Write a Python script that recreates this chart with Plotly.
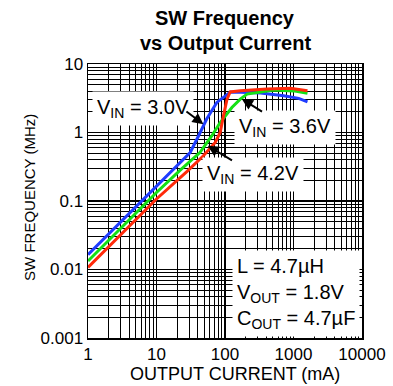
import plotly.graph_objects as go
import math

# Data
i_30 = [1, 10, 31, 41, 54, 76, 95, 120, 170, 330, 720, 1190, 1600]
f_30 = [0.0165, 0.165, 0.51, 0.89, 1.57, 2.75, 3.3, 3.9, 3.88, 3.76, 3.44, 3.15, 2.8]

i_36 = [1, 10, 22, 43, 64, 85, 126, 167, 210, 510, 1000, 1600]
f_36 = [0.0133, 0.133, 0.28, 0.51, 0.89, 1.4, 2.32, 3.07, 3.64, 4.16, 4.05, 3.75]

i_42 = [1, 10, 28, 48, 72, 85, 95, 107, 119, 167, 410, 900, 1600]
f_42 = [0.0107, 0.107, 0.27, 0.454, 0.714, 1.0, 1.75, 3.07, 3.9, 4.06, 4.31, 4.41, 4.06]

x_ticks = [1, 10, 100, 1000, 10000]
x_ticktext = ["1", "10", "100", "1000", "10000"]
y_ticks = [0.001, 0.01, 0.1, 1, 10]
y_ticktext = ["0.001", "0.01", "0.1", "1", "10"]

FONT = "Liberation Sans, Arial, Helvetica, sans-serif"

fig = go.Figure()
for xs, ys, col in [(i_30, f_30, "#1f3cff"), (i_36, f_36, "#14e014"), (i_42, f_42, "#ff2a0a")]:
    fig.add_trace(go.Scatter(x=xs, y=ys, mode="lines",
                             line=dict(color=col, width=3), showlegend=False,
                             hoverinfo="skip"))

L = math.log10

def txt(x, y, text, xanchor="center", align="center"):
    fig.add_annotation(x=L(x), y=L(y), xref="x", yref="y", text=text, showarrow=False,
                       xanchor=xanchor, yanchor="middle", align=align,
                       bgcolor="white", borderpad=4,
                       font=dict(family=FONT, size=20, color="black"))

def arrow(x_head, y_head, x_tail, y_tail):
    fig.add_annotation(x=L(x_head), y=L(y_head), ax=L(x_tail), ay=L(y_tail),
                       xref="x", yref="y", axref="x", ayref="y", text="",
                       showarrow=True, arrowhead=2, arrowsize=1.1, arrowwidth=2,
                       arrowcolor="black")

txt(6.3, 2.27, "V<sub>IN</sub> = 3.0V")
txt(760, 1.2, "V<sub>IN</sub> = 3.6V")
txt(254, 0.245, "V<sub>IN</sub> = 4.2V")
txt(128, 0.0044, "L = 4.7µH<br>V<sub>OUT</sub> = 1.8V<br>C<sub>OUT</sub> = 4.7µF",
    xanchor="left", align="left")

arrow(48.5, 1.32, 26, 2.1)
arrow(177, 3.07, 365, 1.96)
arrow(56, 0.64, 133, 0.38)

axis_common = dict(type="log", showline=True, linecolor="black", linewidth=1.5, mirror=True,
                   showgrid=True, gridcolor="black", gridwidth=1.2,
                   ticks="inside", ticklen=5, tickcolor="black",
                   tickfont=dict(family=FONT, size=17, color="black"),
                   minor=dict(dtick="D1", showgrid=True, gridcolor="black", gridwidth=1,
                              ticks="inside", ticklen=4, tickcolor="black"),
                   zeroline=False, automargin=False, fixedrange=True)

fig.update_xaxes(range=[0, 4], tickvals=x_ticks, ticktext=x_ticktext, **axis_common)
fig.update_yaxes(range=[-3, 1], tickvals=y_ticks, ticktext=y_ticktext, **axis_common)

# Axis titles
fig.add_annotation(x=0.536, y=-0.131, xref="paper", yref="paper", showarrow=False,
                   text="OUTPUT CURRENT (mA)", xanchor="center", yanchor="middle",
                   font=dict(family=FONT, size=18, color="black"))
fig.add_annotation(x=-0.2117, y=0.515, xref="paper", yref="paper", showarrow=False,
                   text="SW FREQUENCY (MHz)", textangle=-90, xanchor="center", yanchor="middle",
                   font=dict(family=FONT, size=15, color="black"))

# Title as two centered lines above the plot area
title_font = dict(family=FONT, size=20, color="black")
fig.add_annotation(x=0.5, y=1.168, xref="paper", yref="paper", showarrow=False,
                   text="<b>SW Frequency</b>", font=title_font, xanchor="center", yanchor="middle")
fig.add_annotation(x=0.5, y=1.0766, xref="paper", yref="paper", showarrow=False,
                   text="<b>vs Output Current</b>", font=title_font, xanchor="center", yanchor="middle")

fig.update_layout(
    width=393, height=386,
    margin=dict(l=88, r=31, t=64, b=48),
    paper_bgcolor="white", plot_bgcolor="white",
    hovermode=False,
)

fig.write_html("out.html", config={"displayModeBar": False, "staticPlot": True},
               post_script="document.body.style.margin='0px';document.body.style.overflow='hidden';")
